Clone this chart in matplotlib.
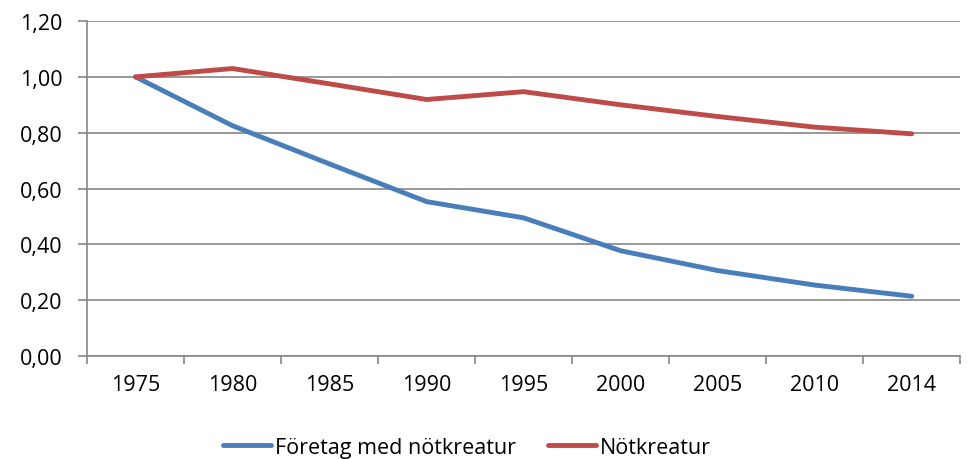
import numpy as np
import matplotlib
matplotlib.use("Agg")
import matplotlib.pyplot as plt
from matplotlib.ticker import FuncFormatter, FixedLocator

# data
years = ["1975", "1980", "1985", "1990", "1995", "2000", "2005", "2010", "2014"]
foretag = [1.00, 0.825, 0.688, 0.553, 0.495, 0.377, 0.306, 0.254, 0.214]
notkreatur = [1.00, 1.030, 0.975, 0.919, 0.947, 0.900, 0.858, 0.820, 0.796]

plt.rcParams['font.family'] = ['Open Sans', 'DejaVu Sans']
fs = 15.5

fig = plt.figure(figsize=(9.67, 4.6), dpi=100)
ax = fig.add_axes([0.09, 0.224, 0.903, 0.728])

x = np.arange(len(years))
ax.plot(x, foretag, color='#4A7EBB', lw=3.5, solid_capstyle='round', label='Företag med nötkreatur')
ax.plot(x, notkreatur, color='#BE4B48', lw=3.5, solid_capstyle='round', label='Nötkreatur')

ax.set_xlim(-0.5, len(years) - 0.5)
ax.set_ylim(0, 1.2)
ax.set_yticks(np.arange(0, 1.21, 0.2))
ax.yaxis.set_major_formatter(FuncFormatter(lambda v, p: f"{v:.2f}".replace('.', ',')))
ax.grid(axis='y', color='#868686', lw=1.2)
ax.set_axisbelow(True)

ax.set_xticks(x)
ax.set_xticklabels(years)
ax.xaxis.set_minor_locator(FixedLocator(np.arange(-0.5, len(years), 1.0)))
ax.tick_params(axis='x', which='major', length=0, pad=13, labelsize=fs, colors='black')
ax.tick_params(axis='x', which='minor', length=5.5, width=1.2, color='#868686')
ax.tick_params(axis='y', length=6.5, width=1.2, color='#868686', labelsize=fs, pad=11)

for s in ['top', 'right']:
    ax.spines[s].set_visible(False)
for s in ['left', 'bottom']:
    ax.spines[s].set_color('#868686')
    ax.spines[s].set_linewidth(1.2)

fig.legend(loc='center', bbox_to_anchor=(0.483, 0.026), ncol=2, frameon=False,
           fontsize=fs, handlelength=2.2, handletextpad=0.2, columnspacing=1.5)

fig.savefig('out.png', dpi=100)
